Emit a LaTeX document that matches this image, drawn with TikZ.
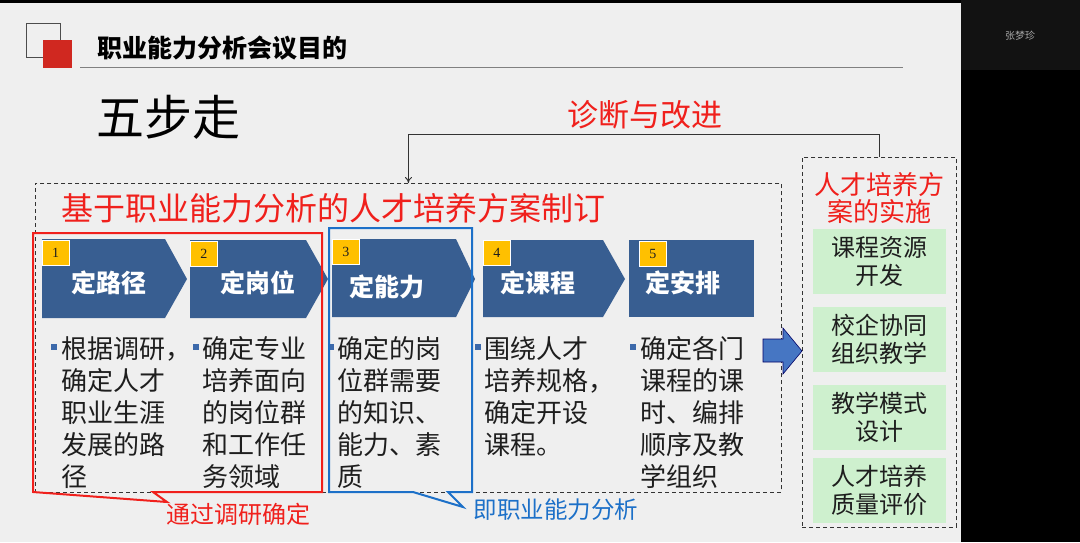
\documentclass[tikz,border=0pt]{standalone}
\usepackage{fontspec}
\setmainfont{Noto Sans CJK SC}
\newfontfamily\numfont{Liberation Serif}
\usetikzlibrary{arrows.meta,positioning,calc}

\definecolor{slidebg}{RGB}{239,239,239}
\definecolor{stepblue}{RGB}{56,94,145}
\definecolor{badgegold}{RGB}{255,192,0}
\definecolor{callred}{RGB}{240,32,28}
\definecolor{callblue}{RGB}{28,112,200}
\definecolor{implgreen}{RGB}{206,240,206}
\definecolor{arrowblue}{RGB}{70,118,195}
\definecolor{textdark}{RGB}{30,30,30}
\definecolor{logored}{RGB}{208,40,32}
\definecolor{bulletblue}{RGB}{60,105,170}

\newcommand{\fsz}[2]{\fontsize{#1}{#2}\selectfont}

\begin{document}
\begin{tikzpicture}[
	x=1pt,y=-1pt,
	>={To[length=6pt,width=7pt]},
	every node/.style={inner sep=0pt, text=textdark},
	dashbox/.style={draw=black!80, dash pattern=on 4pt off 3pt, line width=0.8pt},
	stepshape/.style={fill=stepblue},
	steplabel/.style={text=white, font=\fsz{25}{30}\bfseries},
	badge/.style={fill=badgegold, draw=white, line width=0.5pt, minimum width=27pt, minimum height=25pt, anchor=north west, font=\numfont\fsz{14}{16}},
	bullettext/.style={anchor=north west, align=left, font=\fsz{26}{32}},
	bulletsq/.style={fill=bulletblue},
	implbox/.style={fill=implgreen, minimum width=133pt, minimum height=65pt, align=center, font=\fsz{24}{28}},
	redlabel/.style={text=callred}
	]
	\useasboundingbox (0,0) rectangle (1080,542);
	
	% --------------------------
	% Screen: slide and side panel
	% --------------------------
	\fill[black] (0,0) rectangle (1080,542);
	\fill[slidebg] (0,3) rectangle (961,542);
	\fill[black!93] (961,0) rectangle (1080,70);
	\node[text=black!35, font=\fsz{10}{12}] (speaker) at (1020,36) {张梦珍};
	
	% --------------------------
	% Header
	% --------------------------
	\draw[black!70, line width=1pt] (26,23) rectangle (60,57);
	\fill[logored] (43,40) rectangle (72,68);
	\node[anchor=west, font=\fsz{25}{30}\bfseries, text=black] (head) at (97,48) {职业能力分析会议目的};
	\draw[black!50, line width=0.8pt] (80,67) -- (903,67);
	\node[anchor=west, font=\fsz{48}{54}, text=black] (five) at (96,117) {五步走};
	
	% --------------------------
	% Feedback loop
	% --------------------------
	\node[redlabel, font=\fsz{31}{36}] (diag) at (645,115) {诊断与改进};
	\node[dashbox, minimum width=746pt, minimum height=309pt, anchor=north west] (plan) at (35,183) {};
	\node[dashbox, minimum width=154pt, minimum height=370pt, anchor=north west] (impl) at (802,157) {};
	\draw[->, black!80, line width=0.9pt] (impl.north) -- ++(0,-23) -| (plan.north);
	
	\node[redlabel, anchor=west, font=\fsz{32}{36}] (plantitle) at (61,208) {基于职业能力分析的人才培养方案制订};
	
	% --------------------------
	% Five steps
	% --------------------------
	\fill[stepshape] (42,239) -- (165,239) -- (187,279) -- (165,318) -- (42,318) -- cycle;
	\fill[stepshape] (190,240) -- (306,240) -- (328,279) -- (306,318) -- (190,318) -- cycle;
	\fill[stepshape] (332,239) -- (456,239) -- (475,279) -- (456,317) -- (332,317) -- cycle;
	\fill[stepshape] (483,240) -- (603,240) -- (625,279) -- (603,317) -- (483,317) -- cycle;
	\fill[stepshape] (629,240) rectangle (754,317);
	
	\node[badge] (b1) at (42,240) {1};
	\node[badge] (b2) at (190,241) {2};
	\node[badge] (b3) at (332,239) {3};
	\node[badge] (b4) at (483,240) {4};
	\node[badge] (b5) at (639,241) {5};
	
	\node[steplabel] (s1) at (109,283) {定路径};
	\node[steplabel] (s2) at (258,283) {定岗位};
	\node[steplabel] (s3) at (387,287) {定能力};
	\node[steplabel] (s4) at (538,283) {定课程};
	\node[steplabel] (s5) at (683,283) {定安排};
	
	% bullet texts
	\fill[bulletsq] (51,344) rectangle (57,350);
	\fill[bulletsq] (193,344) rectangle (199,350);
	\fill[bulletsq] (328,344) rectangle (334,350);
	\fill[bulletsq] (475,344) rectangle (481,350);
	\fill[bulletsq] (630,344) rectangle (636,350);
	
	\node[bullettext] (t1) at (61,336) {根据调研，\\确定人才\\职业生涯\\发展的路\\径};
	\node[bullettext] (t2) at (202,336) {确定专业\\培养面向\\的岗位群\\和工作任\\务领域};
	\node[bullettext] (t3) at (337,336) {确定的岗\\位群需要\\的知识、\\能力、素\\质};
	\node[bullettext] (t4) at (484,336) {围绕人才\\培养规格，\\确定开设\\课程。};
	\node[bullettext] (t5) at (640,336) {确定各门\\课程的课\\时、编排\\顺序及教\\学组织};
	
	% --------------------------
	% Callouts
	% --------------------------
	\draw[callred, line width=2pt, line join=miter] (33,233) -- (322,233) -- (322,492) -- (153,492) -- (167,502) -- (33,492) -- cycle;
	\draw[callblue, line width=2pt, line join=miter] (329,228) -- (472,228) -- (472,492) -- (448,492) -- (463,507) -- (413,492) -- (329,492) -- cycle;
	\node[redlabel, font=\fsz{24}{28}] (survey) at (238,514) {通过调研确定};
	\node[text=callblue, font=\fsz{23.5}{28}] (analysis) at (556,510) {即职业能力分析};
	
	% big arrow to implementation
	\draw[fill=arrowblue, draw=black!60!blue, line width=0.6pt] (763,339) -- (783,339) -- (783,328) -- (802,351) -- (783,374) -- (783,362) -- (763,362) -- cycle;
	
	% --------------------------
	% Implementation
	% --------------------------
	\node[redlabel, align=center, font=\fsz{26}{27}] (impltitle) at (879,198) {人才培养方\\案的实施};
	\node[implbox] (g1) at (879,261.5) {课程资源\\开发};
	\node[implbox] (g2) at (879,339.5) {校企协同\\组织教学};
	\node[implbox] (g3) at (879,417.5) {教学模式\\设计};
	\node[implbox] (g4) at (879,490) {人才培养\\质量评价};
	
\end{tikzpicture}
\end{document}
